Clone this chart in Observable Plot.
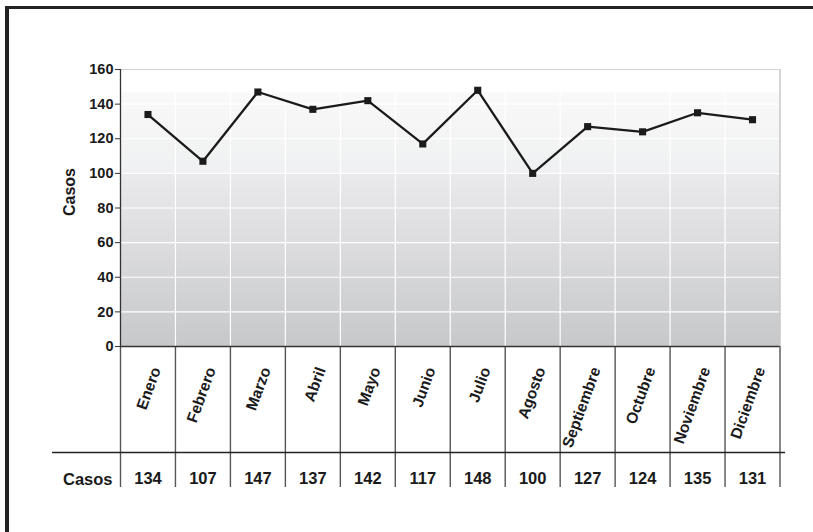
<!DOCTYPE html>
<html>
<head>
<meta charset="utf-8">
<script src="https://cdn.jsdelivr.net/npm/d3@7"></script>
<script src="https://cdn.jsdelivr.net/npm/@observablehq/plot@0.6"></script>
<style>
  html, body { margin: 0; padding: 0; background: #ffffff; }
  #wrap { position: relative; width: 813px; height: 532px; overflow: hidden; }
  #border { position: absolute; left: 5px; top: 6px; width: 900px; height: 600px;
            border-top: 3.5px solid #222; border-left: 4px solid #222; box-sizing: border-box; pointer-events: none; }
  #chart { position: absolute; left: 0; top: 0; }
</style>
</head>
<body>
<div id="wrap">
  <div id="chart"></div>
  <div id="border"></div>
</div>
<script>
const months = ["Enero", "Febrero", "Marzo", "Abril", "Mayo", "Junio", "Julio", "Agosto", "Septiembre", "Octubre", "Noviembre", "Diciembre"];
const casos = [134, 107, 147, 137, 142, 117, 148, 100, 127, 124, 135, 131];
const yTicks = [0, 20, 40, 60, 80, 100, 120, 140, 160];
const seriesName = "Casos";

const rows = months.map((m, i) => ({ month: m, idx: i, value: casos[i] }));
const boundaries = d3.range(0, months.length + 1);
const inner = d3.range(1, months.length);
const mid = d => d.idx + 0.5;

const svg = Plot.plot({
  width: 813,
  height: 532,
  marginLeft: 120,
  marginRight: 33.5,
  marginTop: 69,
  marginBottom: 186,
  style: { fontFamily: "'Liberation Sans', Arial, sans-serif", fontWeight: "bold", color: "#1a1a1a", background: "transparent" },
  x: { domain: [0, months.length] },
  y: { domain: [0, 160] },
  marks: [
    Plot.frame({ fill: "url(#bgGrad)", stroke: "none" }),
    Plot.ruleY(yTicks.filter(t => t > 0 && t < 160), { stroke: "#ffffff", strokeWidth: 1.2 }),
    Plot.ruleX(inner, { stroke: "#ffffff", strokeWidth: 1.2 }),
    Plot.ruleY([160], { stroke: "#d2d2d2" }),
    Plot.ruleX([months.length], { stroke: "#c8c8c8", strokeWidth: 1.5 }),
    // table vertical separators hanging below the plot
    Plot.axisX({ ticks: boundaries, tickSize: 141, tickFormat: () => "", label: null, stroke: "#555", strokeWidth: 1.4 }),
    // table horizontal line
    Plot.ruleY([0], { dy: 106, insetLeft: -68, insetRight: -5.5, stroke: "#222", strokeWidth: 1.4 }),
    Plot.axisY({ ticks: yTicks, tickSize: 5, tickPadding: 2, fontSize: 14.5, label: null, stroke: "#333" }),
    Plot.ruleX([0], { stroke: "#333", strokeWidth: 1.3 }),
    Plot.ruleY([0], { stroke: "#333", strokeWidth: 1.3 }),
    Plot.text([seriesName], { frameAnchor: "left", dx: -51, dy: 8, rotate: -90, fontSize: 16, fill: "#1a1a1a" }),
    // month labels
    Plot.text(rows, { x: mid, text: "month", frameAnchor: "bottom", dx: 13, dy: 23, rotate: -70, textAnchor: "end", lineAnchor: "bottom", fontSize: 15.5, fill: "#1a1a1a" }),
    // table values
    Plot.text(rows, { x: mid, text: d => String(d.value), frameAnchor: "bottom", dy: 137.5, lineAnchor: "bottom", fontSize: 16.5, fill: "#1a1a1a" }),
    Plot.text([seriesName], { frameAnchor: "bottom-left", dx: -8, dy: 138, textAnchor: "end", lineAnchor: "bottom", fontSize: 16.5, fill: "#1a1a1a" }),
    // data
    Plot.line(rows, { x: mid, y: "value", stroke: "#1b1b1b", strokeWidth: 2.3 }),
    Plot.dot(rows, { x: mid, y: "value", symbol: "square", r: 4, fill: "#1b1b1b", stroke: "none" })
  ]
});

d3.select(svg).insert("defs", ":first-child").html(
  `<linearGradient id="bgGrad" x1="0" y1="0" x2="0" y2="1">
     <stop offset="0" stop-color="#ffffff"/>
     <stop offset="0.08" stop-color="#ffffff"/>
     <stop offset="0.085" stop-color="#f9f9f9"/>
     <stop offset="0.37" stop-color="#eff0f1"/>
     <stop offset="0.375" stop-color="#eaeaec"/>
     <stop offset="1" stop-color="#c7c8ca"/>
   </linearGradient>`
);

document.getElementById("chart").appendChild(svg);
</script>
</body>
</html>
